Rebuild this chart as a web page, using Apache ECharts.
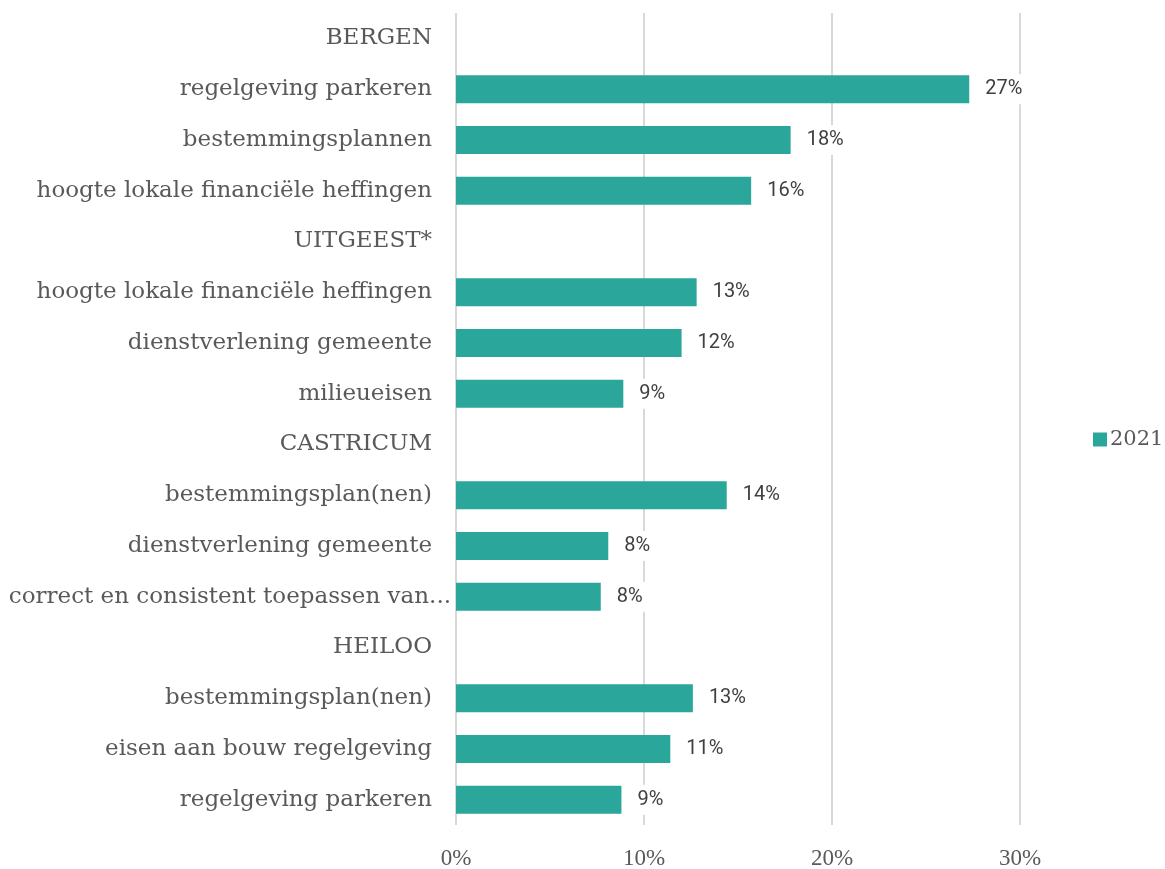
<!DOCTYPE html>
<html>
<head>
<meta charset="utf-8">
<script src="https://cdn.jsdelivr.net/npm/echarts@6/dist/echarts.min.js"></script>
<style>
  html, body { margin: 0; padding: 0; background: #fff; }
  #chart { width: 1165px; height: 869px; }
</style>
</head>
<body>
<div id="chart"></div>
<script>
const categories = [
  'BERGEN',
  'regelgeving parkeren',
  'bestemmingsplannen',
  'hoogte lokale financiële heffingen',
  'UITGEEST*',
  'hoogte lokale financiële heffingen',
  'dienstverlening gemeente',
  'milieueisen',
  'CASTRICUM',
  'bestemmingsplan(nen)',
  'dienstverlening gemeente',
  'correct en consistent toepassen van...',
  'HEILOO',
  'bestemmingsplan(nen)',
  'eisen aan bouw regelgeving',
  'regelgeving parkeren'
]
// percentages, null for the municipality header rows
const values2021 = [null, 27.3, 17.8, 15.7, null, 12.8, 12.0, 8.9, null, 14.4, 8.1, 7.7, null, 12.6, 11.4, 8.8]
const xTicks = [0, 10, 20, 30]

// the truncated label runs up to the bars, like in the original
const yData = categories.map((c) =>
  c.endsWith('...') ? { value: c, textStyle: { padding: [0, -19, 0, 0] } } : c
)

const chart = echarts.init(document.getElementById('chart'))

chart.setOption({
  animation: false,
  grid: { left: 456, right: 145, top: 13, bottom: 44, containLabel: false, outerBoundsMode: 'none' },
  legend: {
    data: ['2021'],
    orient: 'vertical',
    left: 1088,
    top: 424,
    icon: 'rect',
    itemWidth: 14,
    itemHeight: 14,
    itemGap: 6,
    textStyle: { color: '#595959', fontSize: 21, fontFamily: 'DejaVu Serif', padding: [0, 0, 0, -2] }
  },
  xAxis: {
    type: 'value',
    min: xTicks[0],
    max: xTicks[xTicks.length - 1],
    interval: 10,
    axisLine: { show: false },
    axisTick: { show: false },
    splitLine: { lineStyle: { color: '#d9d9d9', width: 2 } },
    axisLabel: {
      formatter: (v) => v + '%',
      color: '#595959',
      fontSize: 23,
      fontFamily: 'Liberation Serif',
      margin: 22
    }
  },
  yAxis: {
    type: 'category',
    inverse: true,
    data: yData,
    axisLine: { show: false },
    axisTick: { show: false },
    axisLabel: {
      color: '#595959',
      fontSize: 23,
      fontFamily: 'DejaVu Serif',
      margin: 24
    }
  },
  series: [
    {
      name: '2021',
      type: 'bar',
      data: values2021,
      barWidth: 28,
      itemStyle: { color: '#2ba69a' },
      label: {
        show: true,
        position: 'right',
        distance: 12,
        formatter: (p) => (p.value == null ? '' : Math.round(p.value) + '%'),
        color: '#404040',
        fontSize: 20,
        fontFamily: 'Roboto',
        backgroundColor: '#fff',
        padding: [5, 4]
      }
    }
  ]
})
</script>
</body>
</html>
